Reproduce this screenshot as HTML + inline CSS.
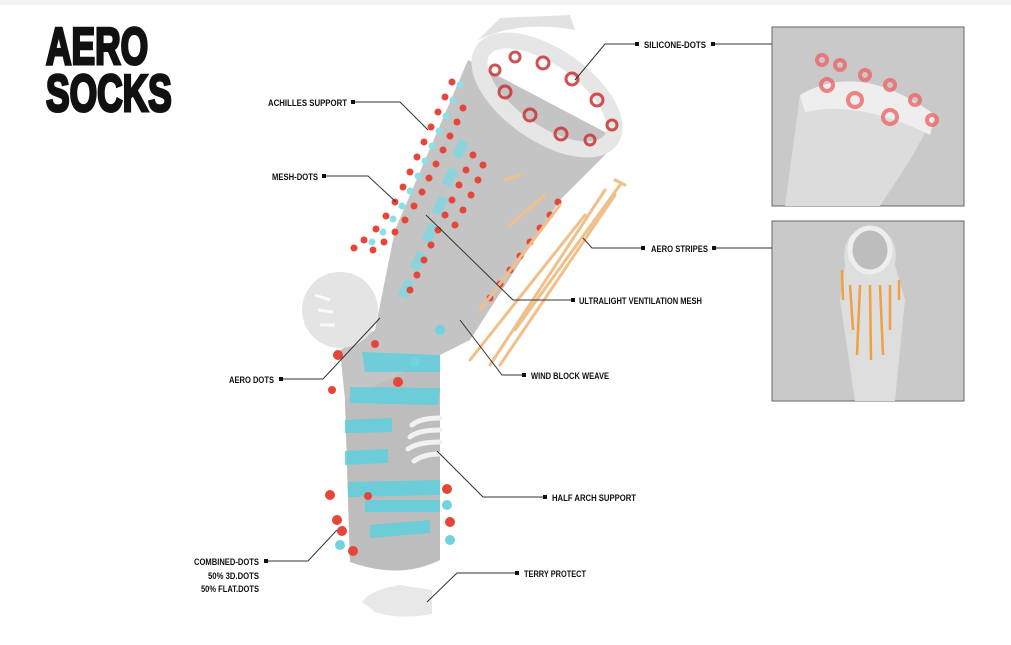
<!DOCTYPE html>
<html><head><meta charset="utf-8"><style>
html,body{margin:0;padding:0;background:#fff;}
svg{display:block}
text{font-family:"Liberation Sans",sans-serif;font-weight:bold;fill:#111;}
.l{font-size:9.5px}
</style></head><body>
<svg width="1011" height="645" viewBox="0 0 1011 645" xmlns="http://www.w3.org/2000/svg">
<rect x="0" y="0" width="1011" height="5" fill="#f2f2f2"/>
<!-- Title -->
<g transform="translate(46,64) scale(0.68,1)"><text font-size="52" stroke="#111" stroke-width="3" style="letter-spacing:0px">AERO</text></g>
<g transform="translate(46,111) scale(0.68,1)"><text font-size="52" stroke="#111" stroke-width="3" style="letter-spacing:0px">SOCKS</text></g>

<!-- Panels -->
<rect x="772" y="27" width="192" height="179" fill="#c9c9c9" stroke="#666" stroke-width="1"/>
<path d="M785 206 L800 95 Q860 60 935 115 L910 160 L880 206Z" fill="#dcdcdc"/>
<path d="M800 95 Q860 60 935 115 L930 135 Q860 100 805 112Z" fill="#eeeeee"/>
<g fill="none" stroke="#e66" stroke-width="4" opacity="0.8">
<circle cx="822" cy="60" r="5"/><circle cx="840" cy="65" r="5"/><circle cx="865" cy="75" r="5"/><circle cx="890" cy="85" r="5"/><circle cx="915" cy="100" r="5"/><circle cx="827" cy="85" r="6"/><circle cx="855" cy="100" r="7"/><circle cx="890" cy="117" r="7"/><circle cx="932" cy="120" r="5"/>
</g>
<rect x="772" y="221" width="192" height="180" fill="#c9c9c9" stroke="#666" stroke-width="1"/>
<path d="M845 265 Q840 230 870 228 Q900 230 895 265 L905 300 L895 401 L855 401 L840 300Z" fill="#dedede"/>
<ellipse cx="870" cy="250" rx="20" ry="22" fill="#bdbdbd" stroke="#eee" stroke-width="5"/>
<g stroke="#f0a040" stroke-width="2.5">
<line x1="842" y1="270" x2="843" y2="300"/><line x1="850" y1="285" x2="853" y2="330"/><line x1="860" y1="285" x2="857" y2="355"/><line x1="870" y1="285" x2="871" y2="360"/><line x1="880" y1="285" x2="883" y2="355"/><line x1="890" y1="285" x2="890" y2="330"/><line x1="899" y1="280" x2="899" y2="300"/>
</g>

<!-- Sock shape -->
<path d="M468 60 L620 140 L560 200 L470 340 L440 355 L440 560 L350 562 L345 400 L340 350 L375 330 L395 230 Z" fill="#c4c4c4"/>
<path d="M440 355 L440 560 Q400 580 350 562 L345 400 Z" fill="#bdbdbd"/>
<circle cx="340" cy="310" r="38" fill="#e4e4e4"/>
<g stroke="#fff" stroke-width="3" opacity="0.8"><line x1="315" y1="295" x2="330" y2="300"/><line x1="318" y1="310" x2="333" y2="312"/><line x1="320" y1="325" x2="335" y2="325"/></g>
<!-- cuff -->
<path d="M478 40 Q520 20 575 30 L570 15 L500 18 Z" fill="#e2e2e2"/>
<ellipse cx="547" cy="95" rx="78" ry="38" transform="rotate(35 547 95)" fill="none" stroke="#e6e6e6" stroke-width="16"/>
<g fill="none" stroke="#c33" stroke-width="3" opacity="0.85">
<circle cx="495" cy="70" r="5"/><circle cx="515" cy="57" r="5"/><circle cx="543" cy="63" r="6"/><circle cx="572" cy="79" r="6"/><circle cx="597" cy="100" r="6"/><circle cx="505" cy="92" r="6"/><circle cx="530" cy="115" r="6"/><circle cx="561" cy="134" r="6"/><circle cx="590" cy="140" r="5"/><circle cx="612" cy="125" r="5"/>
</g>
<!-- cyan stripes on foot -->
<g fill="#5fcfdc" opacity="0.85">
<polygon points="362,352 440,355 440,372 365,372"/><polygon points="350,387 440,388 438,405 350,403"/>
<polygon points="345,420 392,418 392,432 345,433"/><polygon points="345,451 388,449 388,463 345,465"/>
<polygon points="348,482 440,480 440,495 348,497"/><polygon points="365,500 440,500 440,512 365,512"/>
<polygon points="370,525 430,520 430,533 370,538"/>
</g>
<!-- cyan blocks leg -->
<g fill="#7fd9e3" opacity="0.8">
<rect x="455" y="140" width="10" height="18" transform="rotate(25 460 150)"/><rect x="445" y="168" width="10" height="18" transform="rotate(25 450 177)"/><rect x="435" y="196" width="10" height="18" transform="rotate(25 440 205)"/><rect x="425" y="224" width="10" height="18" transform="rotate(25 430 233)"/><rect x="413" y="252" width="10" height="18" transform="rotate(25 418 261)"/><rect x="401" y="280" width="10" height="18" transform="rotate(25 406 289)"/>
</g>
<!-- dots rows -->
<g fill="#e8453a">
<circle cx="452" cy="82" r="3.5"/><circle cx="445" cy="97" r="3.5"/><circle cx="438" cy="112" r="3.5"/><circle cx="431" cy="127" r="3.5"/><circle cx="424" cy="142" r="3.5"/><circle cx="417" cy="157" r="3.5"/><circle cx="410" cy="172" r="3.5"/><circle cx="403" cy="187" r="3.5"/><circle cx="395" cy="202" r="3.5"/><circle cx="386" cy="216" r="3.5"/><circle cx="376" cy="229" r="3.5"/><circle cx="364" cy="240" r="3.5"/><circle cx="354" cy="248" r="3.5"/>
<circle cx="463" cy="108" r="3.5"/><circle cx="457" cy="122" r="3.5"/><circle cx="450" cy="136" r="3.5"/><circle cx="443" cy="150" r="3.5"/><circle cx="436" cy="164" r="3.5"/><circle cx="429" cy="178" r="3.5"/><circle cx="422" cy="192" r="3.5"/><circle cx="414" cy="206" r="3.5"/><circle cx="405" cy="220" r="3.5"/><circle cx="395" cy="232" r="3.5"/><circle cx="384" cy="242" r="3.5"/><circle cx="373" cy="250" r="3.5"/>
<circle cx="473" cy="155" r="3.5"/><circle cx="466" cy="170" r="3.5"/><circle cx="459" cy="185" r="3.5"/><circle cx="452" cy="200" r="3.5"/><circle cx="445" cy="215" r="3.5"/><circle cx="438" cy="230" r="3.5"/><circle cx="431" cy="245" r="3.5"/><circle cx="424" cy="260" r="3.5"/><circle cx="417" cy="275" r="3.5"/><circle cx="410" cy="290" r="3.5"/>
<circle cx="483" cy="165" r="3.5"/><circle cx="478" cy="180" r="3.5"/><circle cx="471" cy="195" r="3.5"/><circle cx="463" cy="210" r="3.5"/><circle cx="455" cy="225" r="3.5"/>
<circle cx="558" cy="202" r="3.5"/><circle cx="550" cy="215" r="3.5"/><circle cx="540" cy="228" r="3.5"/><circle cx="530" cy="242" r="3.5"/><circle cx="520" cy="256" r="3.5"/><circle cx="510" cy="270" r="3.5"/><circle cx="500" cy="284" r="3.5"/><circle cx="490" cy="298" r="3.5"/>
<circle cx="338" cy="355" r="5"/><circle cx="332" cy="390" r="4"/><circle cx="398" cy="382" r="5"/><circle cx="375" cy="344" r="4"/>
<circle cx="330" cy="495" r="5"/><circle cx="337" cy="520" r="5"/><circle cx="342" cy="531" r="5"/><circle cx="353" cy="551" r="5"/><circle cx="447" cy="489" r="5"/><circle cx="450" cy="522" r="5"/><circle cx="368" cy="496" r="4"/>
</g>
<g fill="#6fd3e0"><circle cx="447" cy="505" r="5"/><circle cx="450" cy="540" r="5"/><circle cx="340" cy="545" r="5"/><circle cx="440" cy="330" r="5"/><circle cx="415" cy="362" r="5"/></g>
<g fill="#8ee0e8">
<circle cx="460" cy="85" r="3.5"/><circle cx="453" cy="100" r="3.5"/><circle cx="446" cy="116" r="3.5"/><circle cx="439" cy="131" r="3.5"/><circle cx="432" cy="146" r="3.5"/><circle cx="425" cy="161" r="3.5"/><circle cx="418" cy="176" r="3.5"/><circle cx="410" cy="191" r="3.5"/><circle cx="402" cy="206" r="3.5"/><circle cx="393" cy="219" r="3.5"/><circle cx="383" cy="232" r="3.5"/><circle cx="372" cy="242" r="3.5"/>
</g>
<!-- arch support -->
<g fill="none" stroke="#f2f2f2" stroke-width="5" stroke-linecap="round">
<path d="M412 425 Q420 418 440 418"/><path d="M410 437 Q418 430 440 430"/><path d="M408 449 Q418 442 440 442"/><path d="M414 461 Q424 454 440 454"/>
</g>
<!-- aero stripes -->
<g stroke="#f0c08a" stroke-width="3" stroke-linecap="round">
<line x1="505" y1="180" x2="520" y2="175"/><line x1="510" y1="225" x2="545" y2="195"/><line x1="560" y1="205" x2="480" y2="310"/><line x1="585" y1="215" x2="470" y2="360"/><line x1="605" y1="190" x2="490" y2="365"/><line x1="615" y1="195" x2="500" y2="365"/><line x1="620" y1="185" x2="515" y2="330"/><line x1="615" y1="180" x2="625" y2="185"/>
</g>
<!-- toe -->
<path d="M362 602 Q370 590 400 585 L432 590 L432 614 Q400 620 375 612Z" fill="#e8e8e8"/>

<!-- Leaders -->
<g stroke="#333" stroke-width="1" fill="none">
<polyline points="637,44 605,44 575,80"/>
<line x1="713" y1="44" x2="772" y2="44"/>
<polyline points="353,102 400,102 428,130"/>
<polyline points="324,176 368,176 396,202"/>
<polyline points="643,248 592,248 583,238"/>
<line x1="714" y1="248" x2="772" y2="248"/>
<polyline points="573,300 513,300 426,215"/>
<polyline points="524,375 502,375 460,320"/>
<polyline points="281,379 323,379 380,318"/>
<polyline points="545,497 483,497 437,451"/>
<polyline points="266,561 308,561 337,530"/>
<polyline points="517,573 457,573 427,602"/>
</g>
<g fill="#111">
<rect x="635" y="42" width="4" height="4"/><rect x="711" y="42" width="4" height="4"/>
<rect x="351" y="100" width="4" height="4"/><rect x="322" y="174" width="4" height="4"/>
<rect x="641" y="246" width="4" height="4"/><rect x="712" y="246" width="4" height="4"/>
<rect x="571" y="298" width="4" height="4"/><rect x="522" y="373" width="4" height="4"/>
<rect x="279" y="377" width="4" height="4"/><rect x="543" y="495" width="4" height="4"/>
<rect x="264" y="559" width="4" height="4"/><rect x="515" y="571" width="4" height="4"/>
</g>
<g class="l">
<text x="644" y="48" class="l" textLength="62" lengthAdjust="spacingAndGlyphs">SILICONE-DOTS</text>
<text x="268" y="106" class="l" textLength="79" lengthAdjust="spacingAndGlyphs">ACHILLES SUPPORT</text>
<text x="272" y="180" class="l" textLength="46" lengthAdjust="spacingAndGlyphs">MESH-DOTS</text>
<text x="651" y="252" class="l" textLength="57" lengthAdjust="spacingAndGlyphs">AERO STRIPES</text>
<text x="579" y="304" class="l" textLength="123" lengthAdjust="spacingAndGlyphs">ULTRALIGHT VENTILATION MESH</text>
<text x="531" y="379" class="l" textLength="78" lengthAdjust="spacingAndGlyphs">WIND BLOCK WEAVE</text>
<text x="229" y="383" class="l" textLength="45" lengthAdjust="spacingAndGlyphs">AERO DOTS</text>
<text x="552" y="501" class="l" textLength="84" lengthAdjust="spacingAndGlyphs">HALF ARCH SUPPORT</text>
<text x="194" y="565" class="l" textLength="65" lengthAdjust="spacingAndGlyphs">COMBINED-DOTS</text>
<text x="208" y="579" class="l" textLength="51" lengthAdjust="spacingAndGlyphs" font-weight="normal">50% 3D.DOTS</text>
<text x="201" y="592" class="l" textLength="58" lengthAdjust="spacingAndGlyphs">50% FLAT.DOTS</text>
<text x="524" y="577" class="l" textLength="62" lengthAdjust="spacingAndGlyphs">TERRY PROTECT</text>
</g>
</svg>
</body></html>
